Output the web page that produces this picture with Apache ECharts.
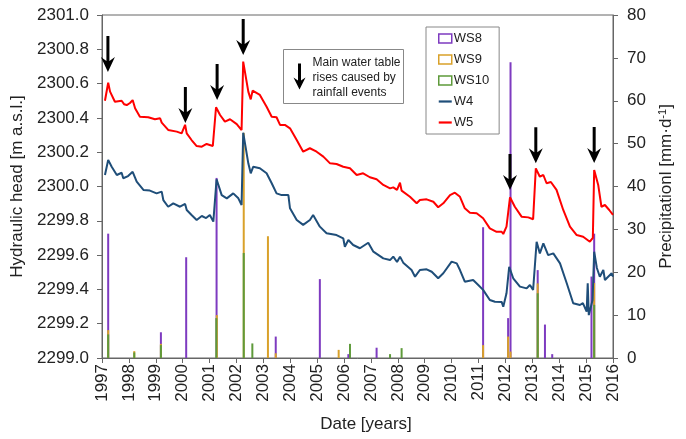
<!DOCTYPE html>
<html>
<head>
<meta charset="utf-8">
<script src="https://cdn.jsdelivr.net/npm/echarts@6/dist/echarts.min.js"></script>
<style>html,body{margin:0;padding:0;background:#fff}#c{width:686px;height:439px}</style>
</head>
<body>
<div id="c"></div>
<script>
// ---- data ----
const yearTicks = [1997, 2016, 1];
const headTicks = [2299.0, 2301.0, 0.2];
const precipTicks = [0, 80, 10];

const W5 = [
[1997.11,2300.50],[1997.23,2300.605],[1997.30,2300.553],[1997.48,2300.494],[1997.73,2300.50],[1997.82,2300.48],[1997.92,2300.475],[1998.04,2300.487],[1998.14,2300.504],[1998.23,2300.456],[1998.41,2300.407],[1998.72,2300.404],[1998.97,2300.392],[1999.16,2300.398],[1999.22,2300.372],[1999.46,2300.33],[1999.78,2300.32],[1999.96,2300.31],[2000.09,2300.36],[2000.15,2300.31],[2000.33,2300.271],[2000.52,2300.236],[2000.71,2300.232],[2000.89,2300.248],[2001.12,2300.236],[2001.18,2300.242],[2001.24,2300.462],[2001.39,2300.417],[2001.57,2300.378],[2001.76,2300.392],[2002.01,2300.364],[2002.19,2300.329],[2002.25,2300.728],[2002.44,2300.553],[2002.53,2300.508],[2002.60,2300.559],[2002.87,2300.534],[2003.12,2300.465],[2003.31,2300.407],[2003.49,2300.404],[2003.62,2300.359],[2003.80,2300.359],[2003.99,2300.339],[2004.24,2300.271],[2004.48,2300.203],[2004.73,2300.223],[2004.98,2300.203],[2005.23,2300.174],[2005.48,2300.135],[2005.72,2300.131],[2005.97,2300.115],[2006.22,2300.106],[2006.47,2300.067],[2006.71,2300.077],[2006.96,2300.054],[2007.21,2300.042],[2007.46,2300.009],[2007.71,2299.989],[2007.83,2299.995],[2007.97,2299.98],[2008.08,2300.022],[2008.14,2299.976],[2008.45,2299.94],[2008.70,2299.902],[2008.82,2299.921],[2009.07,2299.925],[2009.32,2299.911],[2009.50,2299.879],[2009.69,2299.902],[2009.94,2299.95],[2010.12,2299.964],[2010.31,2299.94],[2010.49,2299.873],[2010.68,2299.847],[2010.93,2299.844],[2011.17,2299.815],[2011.42,2299.756],[2011.67,2299.736],[2011.86,2299.736],[2011.92,2299.723],[2012.04,2299.766],[2012.17,2299.937],[2012.35,2299.882],[2012.60,2299.824],[2012.85,2299.82],[2013.03,2299.809],[2013.13,2300.106],[2013.28,2300.057],[2013.41,2300.067],[2013.53,2300.019],[2013.69,2300.026],[2013.90,2299.98],[2014.15,2299.863],[2014.40,2299.766],[2014.65,2299.717],[2014.89,2299.707],[2015.14,2299.678],[2015.25,2299.70],[2015.30,2300.096],[2015.45,2300.009],[2015.57,2299.882],[2015.70,2299.892],[2015.86,2299.863],[2016.0,2299.834]
];
const W4 = [
[1997.11,2300.067],[1997.23,2300.155],[1997.36,2300.115],[1997.55,2300.067],[1997.73,2300.080],[1997.79,2300.048],[1997.97,2300.061],[1998.14,2300.086],[1998.29,2300.028],[1998.54,2299.98],[1998.78,2299.976],[1999.03,2299.96],[1999.22,2299.97],[1999.28,2299.921],[1999.46,2299.882],[1999.65,2299.902],[1999.90,2299.882],[2000.09,2299.898],[2000.15,2299.863],[2000.33,2299.834],[2000.52,2299.805],[2000.71,2299.828],[2000.87,2299.816],[2001.01,2299.834],[2001.14,2299.795],[2001.26,2300.042],[2001.45,2299.95],[2001.64,2299.931],[2001.88,2299.96],[2002.07,2299.931],[2002.19,2299.892],[2002.25,2300.314],[2002.44,2300.135],[2002.53,2300.077],[2002.62,2300.115],[2002.87,2300.106],[2003.12,2300.077],[2003.31,2300.019],[2003.49,2299.96],[2003.68,2299.95],[2003.93,2299.95],[2003.99,2299.873],[2004.24,2299.805],[2004.48,2299.776],[2004.73,2299.805],[2004.85,2299.834],[2005.10,2299.766],[2005.35,2299.727],[2005.72,2299.717],[2005.97,2299.698],[2006.03,2299.649],[2006.16,2299.688],[2006.34,2299.659],[2006.59,2299.64],[2006.90,2299.672],[2007.09,2299.62],[2007.46,2299.581],[2007.71,2299.571],[2007.83,2299.591],[2007.97,2299.56],[2008.08,2299.591],[2008.20,2299.556],[2008.51,2299.513],[2008.64,2299.474],[2008.82,2299.513],[2009.07,2299.517],[2009.26,2299.503],[2009.50,2299.465],[2009.69,2299.494],[2010.00,2299.562],[2010.19,2299.552],[2010.31,2299.513],[2010.49,2299.445],[2010.80,2299.455],[2010.99,2299.426],[2011.17,2299.397],[2011.42,2299.338],[2011.61,2299.328],[2011.86,2299.327],[2011.92,2299.299],[2012.04,2299.377],[2012.14,2299.532],[2012.29,2299.465],[2012.54,2299.416],[2012.79,2299.406],[2012.91,2299.426],[2013.03,2299.397],[2013.16,2299.678],[2013.28,2299.61],[2013.41,2299.668],[2013.59,2299.60],[2013.78,2299.61],[2014.03,2299.552],[2014.28,2299.436],[2014.52,2299.319],[2014.77,2299.309],[2014.88,2299.32],[2015.02,2299.27],[2015.06,2299.435],[2015.10,2299.25],[2015.24,2299.338],[2015.30,2299.62],[2015.40,2299.525],[2015.51,2299.474],[2015.64,2299.513],[2015.70,2299.455],[2015.82,2299.474],[2015.95,2299.494],[2016.0,2299.474]
];
const WS8 = [[1997.23,29],[1999.19,6],[2000.13,23.5],[2001.26,42],[2003.46,5],[2005.10,18.4],[2006.16,0.9],[2007.21,2.4],[2011.17,30.5],[2012.10,9.3],[2012.19,69],[2013.20,20.5],[2013.47,7.8],[2013.74,0.9],[2015.20,19],[2015.30,29]];
const WS9 = [[1997.23,6.5],[1998.20,1.6],[1999.19,3.3],[2001.27,10],[2002.27,52.5],[2003.17,28.4],[2003.46,1.1],[2005.80,1.9],[2011.17,3.0],[2012.10,5.0],[2012.19,1.5],[2013.20,17.4],[2015.30,17.5]];
const WS10 = [[1997.23,5.5],[1998.20,1.3],[1999.19,3],[2001.25,9.3],[2002.27,24.5],[2002.59,3.4],[2006.22,3.3],[2007.71,0.9],[2008.14,2.3],[2013.20,15.1],[2015.30,12.4]];
// arrow tips (year, head) marking main water table rises
const arrowTips = [[1997.22,2300.668],[2000.10,2300.37],[2001.28,2300.504],[2002.25,2300.767],[2012.17,2299.98],[2013.13,2300.135],[2015.30,2300.137]];
const annotationLines = ['Main water table', 'rises caused by', 'rainfall events'];

// ---- styles ----
const FONT = 'Liberation Sans, Arial, sans-serif';
const C = {WS8:'#7E3BC0', WS9:'#D9A12A', WS10:'#5E9A3A', W4:'#1F4E79', W5:'#FF0000', axis:'#666', text:'#222'};
const ARROW = 'path://M5.5,0 L8.5,0 L8.5,25 L14,21 L7,36 L0,21 L5.5,25 Z';
const LINE_ICON = 'path://M0,0 L13,0 L13,2.2 L0,2.2 Z';

const chart = echarts.init(document.getElementById('c'), null, {renderer:'canvas'});
const axisCommon = {
  axisLine:{show:true, lineStyle:{color:C.axis, width:1}},
  axisTick:{show:true, inside:false, length:5, lineStyle:{color:C.axis}},
  splitLine:{show:false},
};
chart.setOption({
  animation:false,
  textStyle:{fontFamily:FONT},
  grid:{left:102, right:73, top:15, bottom:81, show:true, borderColor:C.axis, borderWidth:1, backgroundColor:'transparent'},
  legend:{
    orient:'vertical', left:426, top:27, width:60,
    itemWidth:13, itemHeight:9, itemGap:8,
    padding:[5,10,5,12],
    borderColor:'#888', borderWidth:1,
    textStyle:{fontFamily:FONT, fontSize:13, color:C.text, padding:[0,0,0,-3]},
    data:[
      {name:'WS8', icon:'rect', itemStyle:{color:'#fff', borderColor:C.WS8, borderWidth:1.5}},
      {name:'WS9', icon:'rect', itemStyle:{color:'#fff', borderColor:C.WS9, borderWidth:1.5}},
      {name:'WS10', icon:'rect', itemStyle:{color:'#fff', borderColor:C.WS10, borderWidth:1.5}},
      {name:'W4', icon:LINE_ICON, itemStyle:{color:C.W4}},
      {name:'W5', icon:LINE_ICON, itemStyle:{color:C.W5}}
    ]
  },
  xAxis:Object.assign({}, axisCommon, {
    type:'value', min:yearTicks[0], max:yearTicks[1], interval:yearTicks[2],
    name:'Date [years]', nameLocation:'middle', nameGap:58,
    nameTextStyle:{fontFamily:FONT, fontSize:17, color:C.text, padding:[0,0,0,17]},
    axisLabel:{rotate:90, margin:6, fontFamily:FONT, fontSize:17, color:C.text, formatter:v=>String(Math.round(v))}
  }),
  yAxis:[
    Object.assign({}, axisCommon, {
      type:'value', min:headTicks[0], max:headTicks[1], interval:headTicks[2], position:'left',
      name:'Hydraulic head [m a.s.l.]', nameLocation:'middle', nameGap:66, nameRotate:90,
      nameTextStyle:{fontFamily:FONT, fontSize:17, color:C.text},
      axisLabel:{margin:13, fontFamily:FONT, fontSize:17, color:C.text, formatter:v=>v.toFixed(1)}
    }),
    Object.assign({}, axisCommon, {
      type:'value', min:precipTicks[0], max:precipTicks[1], interval:precipTicks[2], position:'right',
      name:'Precipitationl [mm·d{sup|-1}]', nameLocation:'middle', nameGap:44, nameRotate:90,
      nameTextStyle:{fontFamily:FONT, fontSize:17, color:C.text, rich:{sup:{fontFamily:FONT, fontSize:11, verticalAlign:'top', padding:[0,0,8,0], color:C.text}}},
      axisLabel:{margin:14, fontFamily:FONT, fontSize:17, color:C.text}
    })
  ],
  series:[
    {name:'WS8', type:'bar', xAxisIndex:0, yAxisIndex:1, data:WS8, barWidth:2, barGap:'-100%', itemStyle:{color:C.WS8}, z:2},
    {name:'WS9', type:'bar', xAxisIndex:0, yAxisIndex:1, data:WS9, barWidth:2, barGap:'-100%', itemStyle:{color:C.WS9}, z:2},
    {name:'WS10', type:'bar', xAxisIndex:0, yAxisIndex:1, data:WS10, barWidth:2, barGap:'-100%', itemStyle:{color:C.WS10}, z:2},
    {name:'W4', type:'line', yAxisIndex:0, data:W4, symbol:'none', lineStyle:{color:C.W4, width:2}, itemStyle:{color:C.W4}, z:3},
    {name:'W5', type:'line', yAxisIndex:0, data:W5, symbol:'none', lineStyle:{color:C.W5, width:2}, itemStyle:{color:C.W5}, z:3,
      markPoint:{
        symbol:ARROW, symbolSize:[14,36], symbolOffset:[0,'-50%'],
        itemStyle:{color:'#000'}, label:{show:false}, silent:true,
        data:arrowTips.map(p=>({coord:p}))
      }
    }
  ],
  graphic:[{
    type:'group', left:283, top:49,
    children:[
      {type:'rect', shape:{x:0, y:0, width:120, height:54}, style:{fill:'#fff', stroke:'#888', lineWidth:1}},
      {type:'polygon', shape:{points:[[14.5,14],[17.5,14],[17.5,31],[22,28],[16,40],[10,28],[14.5,31]]}, style:{fill:'#000'}},
      {type:'text', x:29, y:6, style:{text:annotationLines.join('\n'), font:'12px '+FONT, lineHeight:15, fill:C.text}}
    ]
  }]
});
</script>
</body>
</html>
